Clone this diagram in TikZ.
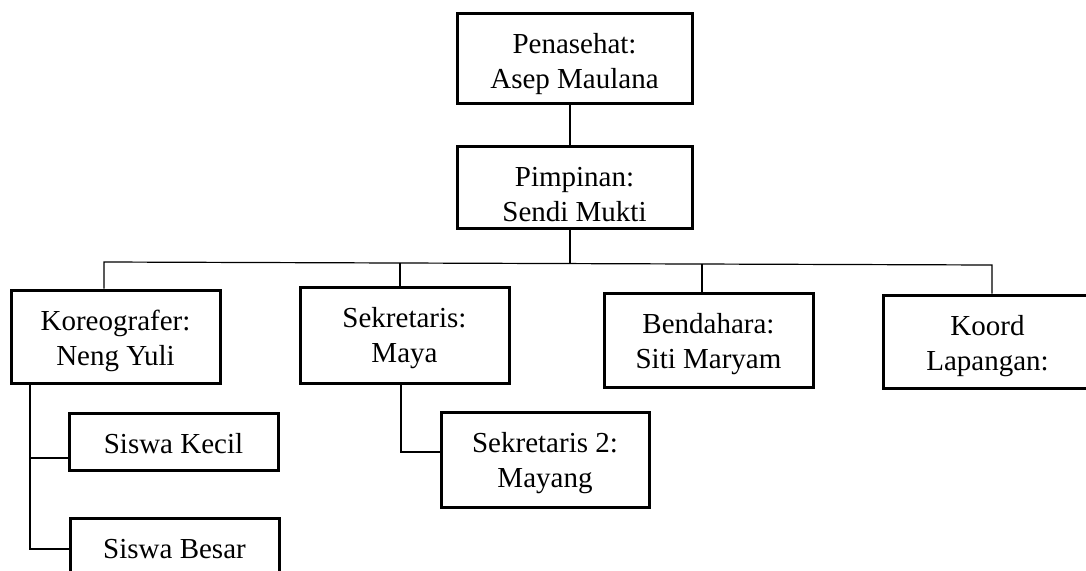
\documentclass[tikz,border=0pt]{standalone}
\usepackage{fontspec}
\setmainfont{Liberation Serif}
\begin{document}
\begin{tikzpicture}[x=1pt,y=-1pt,
  basebox/.style={draw=black, line width=3pt, fill=white, rectangle, align=center,
    inner xsep=0pt, inner ysep=0pt, minimum width=209pt, font=\fontsize{29}{35}\selectfont},
  onebox/.style={basebox, text height=40pt, text depth={#1pt-40pt}},
  twobox/.style={basebox, text height=75pt, text depth={#1pt-75pt}},
  link/.style={draw=black, line width=1.2pt}]
\useasboundingbox (0,0) rectangle (1086,570);
\clip (0,0) rectangle (1086,570);
% boxes
\node[twobox=90, minimum width=235pt] (pen) at (574.5,58) {Penasehat:\\Asep Maulana};
\node[twobox=82, minimum width=235pt] (pim) at (574.5,187) {Pimpinan:\\Sendi Mukti};
\node[twobox=93] (kor) at (115.5,336.5) {Koreografer:\\Neng Yuli};
\node[twobox=96] (sek) at (404.5,335) {Sekretaris:\\Maya};
\node[twobox=94] (ben) at (708.5,340) {Bendahara:\\Siti Maryam};
\node[twobox=93] (koo) at (987.5,341.5) {Koord\\Lapangan:};
\node[twobox=95, minimum width=208pt] (sk2) at (545,459.5) {Sekretaris 2:\\Mayang};
\node[onebox=57] (sk) at (173.5,441.5) {Siswa Kecil};
\node[onebox=57] (sb) at (174.5,547) {Siswa Besar};
% junction coordinates
\coordinate (hl) at (104,262);
\coordinate (hm) at (570,263.6);
\coordinate (hs) at (400,263);
\coordinate (hb) at (702,264);
\coordinate (hr) at (992,265);
\coordinate (pc) at (570,0);
\coordinate (kt) at (30,0);
\coordinate (ka) at (30,458);
\coordinate (kb) at (30,549);
\coordinate (sj) at (401,452);
% connectors
\draw[link] (pen.south -| pc) -- (pim.north -| pc);
\draw[link] (pim.south -| pc) -- (hm);
\draw[link] (kor.north -| hl) -- (hl) -- (hr) -- (koo.north -| hr);
\draw[link] (hs) -- (sek.north -| hs);
\draw[link] (hb) -- (ben.north -| hb);
\draw[link] (kor.south -| kt) -- (kb) -- (kb -| sb.west);
\draw[link] (ka) -- (ka -| sk.west);
\draw[link] (sek.south -| sj) -- (sj) -- (sj -| sk2.west);
\end{tikzpicture}
\end{document}
